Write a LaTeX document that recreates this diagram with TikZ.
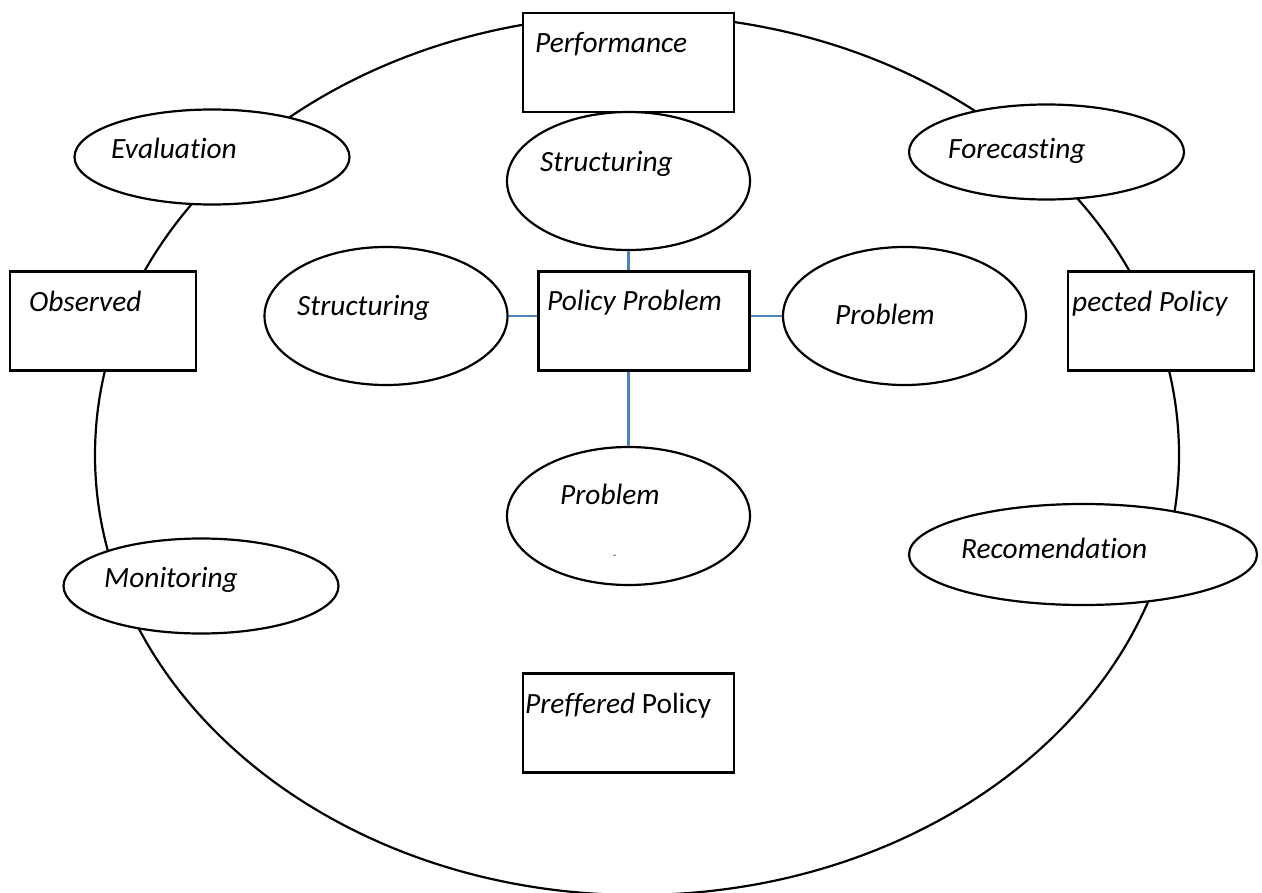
\documentclass[tikz,border=0pt]{standalone}
\usepackage{fontspec}
\setmainfont{Carlito}[Ligatures=NoCommon]
\usepackage{tikz}
\usetikzlibrary{calc, shapes.geometric, positioning, backgrounds}
\definecolor{linkblue}{RGB}{79,129,189}
\tikzset{
    boxnode/.style = {draw, rectangle, fill=white, line width=2.4bp, inner sep=0em,
      minimum width=211bp, minimum height=99bp},
    sidebox/.style = {boxnode, minimum width=186bp},
    ovalnode/.style = {draw, ellipse, fill=white, line width=2.2bp, inner sep=0em,
      minimum width=243bp, minimum height=138bp},
    flatoval/.style = {ovalnode, minimum width=275bp, minimum height=95bp},
    ringnode/.style = {draw, ellipse, line width=2.2bp, inner sep=0em,
      minimum width=1084bp, minimum height=880bp},
    textnode/.style = {draw=none, fill=none, inner sep=0em, anchor=base west,
      font=\fontsize{29.5}{33}\selectfont\itshape},
    connect/.style = {linkblue, line width=2.4bp}
}
\begin{document}
\begin{tikzpicture}[x=1bp, y=-1bp]
\useasboundingbox (0,0) rectangle (1262,893);
% outer cycle
\node[ringnode, name=cycle] at (637,455) {};
% boxes
\node[boxnode, name=perf] at (628.5,62.5) {};
\node[sidebox, name=observed] at (103,321) {};
\node[sidebox, name=expected] at (1161,321) {};
\node[boxnode, name=problem] at (644,321) {};
\node[boxnode, name=preferred] at (628.5,723) {};
% ovals
\node[flatoval, name=evaluation] at (212,157) {};
\node[ovalnode, name=structtop] at (628.5,181) {};
\node[flatoval, name=forecast] at (1046.5,152) {};
\node[ovalnode, name=structleft] at (386,316) {};
\node[ovalnode, name=probright] at (904.5,316) {};
\node[ovalnode, name=probbottom] at (628.5,516) {};
\node[flatoval, minimum width=348bp, minimum height=101bp, name=recommend] at (1083,554.5) {};
\node[flatoval, name=monitor] at (201,586) {};
% links
\draw[connect] (problem.north -| structtop.south) -- (structtop.south);
\draw[connect] (structleft.east -| problem.west) -- (structleft.east);
\draw[connect] (probright.west -| problem.east) -- (probright.west);
\draw[connect] (problem.south -| probbottom.north) -- (probbottom.north);
% labels
\node[textnode, name=lperf] at (535,52) {Performance};
\node[textnode, name=lobs] at (29,311) {Observed};
\node[textnode, name=lexp] at (1072,311) {pected Policy};
\node[textnode, name=lprob] at (547,310) {Policy Problem};
\node[textnode, name=lpref] at (525,713) {Preffered \upshape Policy};
\node[textnode, name=leval] at (111,158) {Evaluation};
\node[textnode, name=lstructtop] at (540,171) {Structuring};
\node[textnode, name=lfore] at (948,158) {Forecasting};
\node[textnode, name=lstructleft] at (297,315) {Structuring};
\node[textnode, name=lprobright] at (835,324) {Problem};
\node[textnode, name=lprobbottom] at (560,504) {Problem};
\node[textnode, font=\fontsize{10}{10}\selectfont, name=ldash] at (613,558) {-};
\node[textnode, name=lrec] at (961,558) {Recomendation};
\node[textnode, name=lmon] at (104,587) {Monitoring};
\end{tikzpicture}
\end{document}
